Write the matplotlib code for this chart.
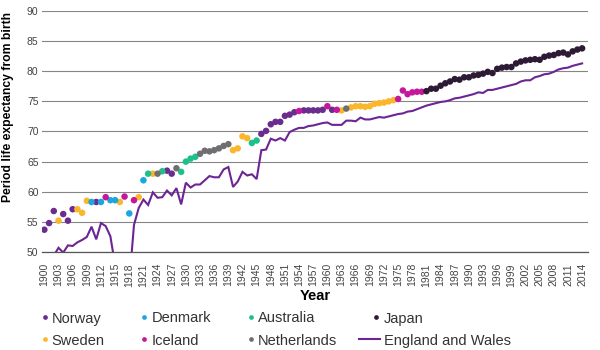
import matplotlib
matplotlib.use("Agg")
import matplotlib.pyplot as plt
from matplotlib.lines import Line2D
from matplotlib.legend_handler import HandlerLine2D

plt.rcParams['font.family'] = ['Liberation Sans', 'DejaVu Sans']

# --- DATA ---
years = list(range(1900, 2015))

# record (best-practice) period life expectancy, one value per year
record_le = [
    53.7, 54.8, 56.8, 55.2, 56.3, 55.2, 57.1, 57.1, 56.5, 58.5,  # 1900s
    58.3, 58.3, 58.3, 59.1, 58.6, 58.6, 58.3, 59.2, 56.4, 58.6,  # 1910s
    59.1, 61.9, 63.0, 63.0, 63.0, 63.4, 63.5, 63.0, 63.9, 63.3,  # 1920s
    65.0, 65.5, 65.8, 66.3, 66.8, 66.7, 66.9, 67.2, 67.6, 67.9,  # 1930s
    66.9, 67.2, 69.2, 68.9, 68.1, 68.5, 69.6, 70.1, 71.2, 71.6,  # 1940s
    71.6, 72.6, 72.8, 73.2, 73.4, 73.5, 73.5, 73.5, 73.5, 73.6,  # 1950s
    74.2, 73.6, 73.6, 73.5, 73.8, 74.0, 74.2, 74.2, 74.1, 74.2,  # 1960s
    74.6, 74.7, 74.8, 75.0, 75.2, 75.4, 76.8, 76.2, 76.5, 76.6,  # 1970s
    76.6, 76.7, 77.1, 77.1, 77.6, 78.0, 78.3, 78.7, 78.6, 79.0,  # 1980s
    79.0, 79.3, 79.4, 79.6, 79.9, 79.7, 80.4, 80.6, 80.7, 80.7,  # 1990s
    81.3, 81.6, 81.8, 81.9, 82.0, 81.9, 82.4, 82.6, 82.7, 83.0,  # 2000s
    83.1, 82.8, 83.3, 83.6, 83.8,                                # 2010s
]

# which country held the record that year
record_holder = (
    ['NO', 'NO', 'NO', 'SE', 'NO', 'NO', 'NO', 'SE', 'SE', 'SE'] +
    ['DK', 'NO', 'DK', 'IS', 'DK', 'DK', 'SE', 'IS', 'DK', 'IS'] +
    ['SE', 'DK', 'AU', 'SE', 'NL', 'AU', 'NO', 'NO', 'NL', 'AU'] +
    ['AU', 'AU', 'AU', 'NL', 'NL', 'NL', 'NL', 'NL', 'NL', 'NL'] +
    ['SE', 'SE', 'SE', 'SE', 'AU', 'AU', 'NO', 'NO', 'NO', 'NO'] +
    ['NO', 'NO', 'NO', 'NO', 'IS', 'NO', 'NO', 'NO', 'NO', 'NO'] +
    ['IS', 'NO', 'IS', 'SE', 'NL', 'SE', 'SE', 'SE', 'SE', 'SE'] +
    ['SE', 'SE', 'SE', 'SE', 'SE', 'IS', 'IS', 'IS', 'IS', 'IS'] +
    ['IS'] + ['JP'] * 34
)

# England and Wales period life expectancy at birth
ew_le = [
    48.2, 48.6, 49.4, 50.7, 49.9, 51.1, 51.0, 51.6, 52.0, 52.5,
    54.2, 52.1, 54.8, 54.3, 52.6, 47.8, 47.0, 46.5, 45.0, 54.5,
    57.3, 58.7, 57.8, 59.9, 59.0, 59.1, 60.2, 59.4, 60.6, 57.9,
    61.5, 60.7, 61.2, 61.2, 61.9, 62.6, 62.4, 62.4, 63.7, 64.1,
    60.8, 61.7, 63.3, 62.7, 62.9, 62.1, 66.9, 67.0, 68.8, 68.5,
    68.9, 68.5, 69.9, 70.3, 70.6, 70.6, 70.9, 71.0, 71.2, 71.4,
    71.5, 71.1, 71.1, 71.1, 71.8, 71.8, 71.7, 72.3, 72.0, 72.0,
    72.2, 72.4, 72.3, 72.5, 72.7, 72.9, 73.0, 73.3, 73.4, 73.7,
    74.0, 74.3, 74.5, 74.7, 74.9, 75.0, 75.2, 75.5, 75.6, 75.8,
    76.0, 76.2, 76.5, 76.4, 76.9, 76.9, 77.1, 77.3, 77.5, 77.7,
    77.9, 78.3, 78.5, 78.5, 79.0, 79.2, 79.5, 79.6, 79.9, 80.3,
    80.5, 80.6, 80.9, 81.1, 81.3,
]

countries = {
    'NO': ('Norway', '#6a2c8e'),
    'SE': ('Sweden', '#fbb62c'),
    'DK': ('Denmark', '#1ba6de'),
    'IS': ('Iceland', '#c5179b'),
    'AU': ('Australia', '#1dbf8a'),
    'NL': ('Netherlands', '#6f6f71'),
    'JP': ('Japan', '#2d1b36'),
}
line_color = '#6c2594'
tick_years = list(range(1900, 2015, 3))


class RightDot(HandlerLine2D):
    """Legend handler that puts the dot just before the label text."""
    def get_xdata(self, legend, xdescent, ydescent, width, height, fontsize):
        pos = -xdescent + width - 2.5
        return [pos - 0.5, pos + 0.5], [pos]


fig = plt.figure(figsize=(6, 3.5), dpi=100)
ax = fig.add_axes([0.07, 0.28, 0.91, 0.6886])

# England and Wales line
ax.plot(years, ew_le, color=line_color, lw=1.5, zorder=2, solid_joinstyle='miter')

# record holders, one scatter per country
for code, (name, col) in countries.items():
    xs = [y for y, c in zip(years, record_holder) if c == code]
    ys = [v for v, c in zip(record_le, record_holder) if c == code]
    ax.scatter(xs, ys, s=22, color=col, edgecolors='none', zorder=3)

ax.set_xlim(1899.5, 2015.25)
ax.set_ylim(50, 90)
ax.set_yticks(range(50, 91, 5))
ax.set_xticks(tick_years)
ax.set_xticklabels([str(y) for y in tick_years], rotation=90)
ax.tick_params(axis='both', length=0, labelsize=7.5, labelcolor='#444444')
ax.tick_params(axis='y', pad=2.5)
ax.tick_params(axis='x', pad=8)

ax.grid(axis='y', color='#858585', lw=0.8)
ax.set_axisbelow(True)
for side in ['top', 'right', 'left']:
    ax.spines[side].set_visible(False)
ax.spines['bottom'].set_color('#555555')
ax.spines['bottom'].set_linewidth(0.9)

ax.set_ylabel('Period life expectancy from birth', fontsize=8.7, fontweight='bold')
ax.yaxis.set_label_coords(-0.052, 0.60)
ax.set_xlabel('Year', fontsize=10.5, fontweight='bold', labelpad=2)

# legend: 2 rows x 4 columns
order = ['NO', 'SE', 'DK', 'IS', 'AU', 'NL', 'JP']
handles, labels, hmap = [], [], {}
for code in order:
    name, col = countries[code]
    h = Line2D([], [], ls='none', marker='o', ms=3.4, color=col, markeredgewidth=0)
    handles.append(h)
    labels.append(name)
    hmap[h] = RightDot()
handles.append(Line2D([], [], color=line_color, lw=1.5))
labels.append('England and Wales')

fig.legend(handles, labels, ncol=4, loc='upper left', bbox_to_anchor=(0.045, 0.11),
           frameon=False, fontsize=10.5, handlelength=1.45, handletextpad=0.25,
           columnspacing=1.5, labelspacing=0.55, borderpad=0, borderaxespad=0,
           handler_map=hmap, labelcolor='#333333')

fig.savefig('out.png', dpi=100)
